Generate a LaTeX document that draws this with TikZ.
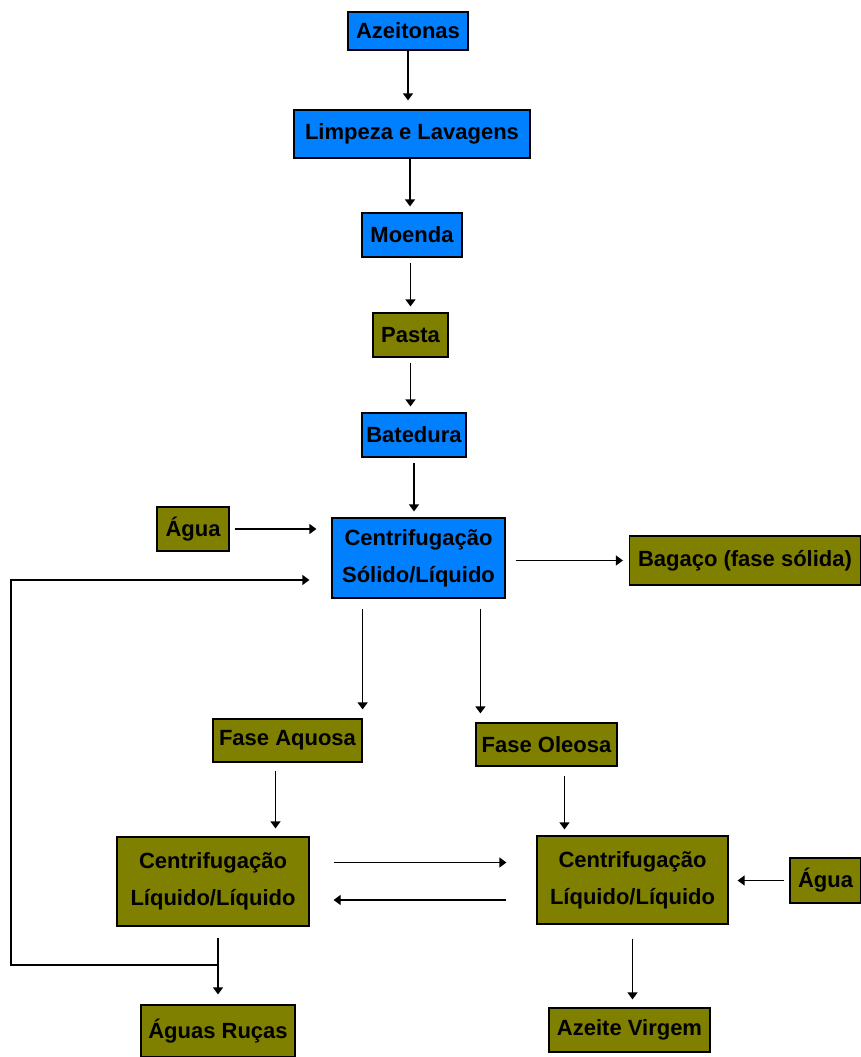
\documentclass[tikz,border=0pt]{standalone}
\usepackage{fontspec}
\setmainfont{Liberation Sans}
\usetikzlibrary{arrows.meta, positioning, calc}
\definecolor{procblue}{RGB}{0,128,255}
\definecolor{prodolive}{RGB}{128,128,0}

\begin{document}
\begin{tikzpicture}[
  x=1pt, y=-1pt,
  box/.style={draw, line width=1.2pt, align=center, inner sep=0pt,
              font=\fontsize{22}{37}\selectfont\bfseries},
  proc/.style={box, fill=procblue},
  prod/.style={box, fill=prodolive},
  flow/.style={->, line width=1.2pt, shorten <=5pt, shorten >=6pt},
  >={Triangle[width=10pt, length=7pt]}]
\useasboundingbox (0,0) rectangle (861,1057);
% main line
\node[proc, minimum width=120pt, minimum height=38pt] (az) at (408,31) {Azeitonas};
\node[proc, minimum width=236pt, minimum height=48pt] (limp) at (412,134) {Limpeza e Lavagens};
\node[proc, minimum width=100pt, minimum height=44pt] (moenda) at (412,235) {Moenda};
\node[prod, minimum width=75pt, minimum height=44pt] (pasta) at (410.5,335) {Pasta};
\node[proc, minimum width=104pt, minimum height=44pt] (bat) at (414,435) {Batedura};
\node[proc, minimum width=173pt, minimum height=80pt] (csl) at (418.5,558)
  {Centrifugação\\ Sólido/Líquido};
\node[prod, minimum width=72pt, minimum height=44pt] (agua1) at (193,529) {Água};
\node[prod, minimum width=231pt, minimum height=49pt] (bagaco) at (745,560.5) {Bagaço (fase sólida)};
% phases
\node[prod, minimum width=149pt, minimum height=43pt] (faq) at (287.5,740.5) {Fase Aquosa};
\node[prod, minimum width=141pt, minimum height=43pt] (fol) at (546.5,744.5) {Fase Oleosa};
\node[prod, minimum width=192pt, minimum height=89pt] (lll) at (213,881.5)
  {Centrifugação\\ Líquido/Líquido};
\node[prod, minimum width=191pt, minimum height=88pt] (llr) at (632.5,880)
  {Centrifugação\\ Líquido/Líquido};
\node[prod, minimum width=71pt, minimum height=45pt] (agua2) at (825.5,880.5) {Água};
\node[prod, minimum width=154pt, minimum height=52pt] (ruc) at (218,1031) {Águas Ruças};
\node[prod, minimum width=161pt, minimum height=44pt] (virg) at (629.5,1030) {Azeite Virgem};
\coordinate (junc) at (ruc.north |- 0,965);
\coordinate (loopcorner) at (11,965);

\draw[flow, shorten <=0pt, shorten >=9pt] (az.south) -- (az.south |- limp.north);
\draw[flow, shorten <=0pt] ([xshift=-2pt]limp.south) -- ([xshift=-2pt]limp.south |- moenda.north);
\draw[flow] (moenda.south -| pasta) -- (pasta.north);
\draw[flow] (pasta.south) -- (pasta.south |- bat.north);
\draw[flow] (bat.south) -- (bat.south |- csl.north);
\draw[flow, shorten >=15pt] (agua1.east) -- (agua1.east -| csl.west);
\draw[flow, shorten <=10pt] (csl.east |- bagaco.west) -- (bagaco.west);
\draw[flow, shorten <=10pt, shorten >=9pt] (csl.south -| faq.east) -- (faq.north east);
\draw[flow, shorten <=10pt, shorten >=9pt] ([xshift=5pt]csl.south -| fol.west) -- ([xshift=5pt]fol.north west);
\draw[flow, shorten <=8pt, shorten >=8pt] ([xshift=-12pt]faq.south) -- ([xshift=-12pt]faq.south |- lll.north);
\draw[flow, shorten <=9pt] ([xshift=18pt]fol.south) -- ([xshift=18pt]fol.south |- llr.north);
\draw[flow, shorten <=24pt, shorten >=30pt] ([yshift=19pt]lll.east) -- ([yshift=19pt]lll.east -| llr.west);
\draw[flow, shorten <=30pt, shorten >=24pt] ([yshift=-20pt]llr.west) -- ([yshift=-20pt]llr.west -| lll.east);
\draw[flow, shorten >=9pt] (agua2.west) -- (agua2.west -| llr.east);
\draw[flow, shorten <=11pt, shorten >=10pt] (ruc.north |- lll.south) -- (ruc.north);
\draw[flow, shorten <=14pt, shorten >=8pt] (llr.south) -- (llr.south |- virg.north);
% return loop
\draw[flow, shorten <=0pt, shorten >=22pt] (junc) -- (loopcorner) |- ([yshift=-22pt]csl.west);
\end{tikzpicture}
\end{document}
